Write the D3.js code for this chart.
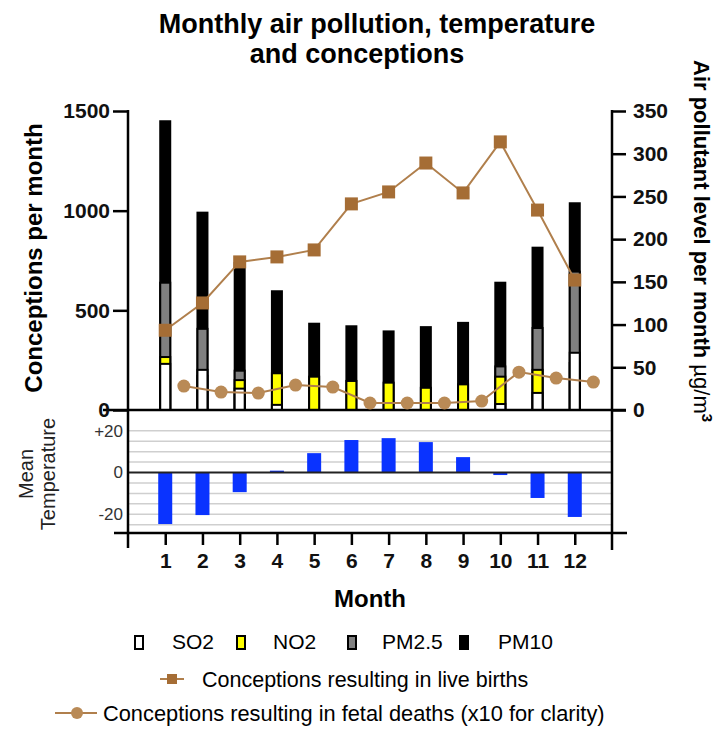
<!DOCTYPE html>
<html><head><meta charset="utf-8">
<script src="https://cdn.jsdelivr.net/npm/d3@7"></script>
<style>body{margin:0;background:#fff}svg{display:block;font-family:"Liberation Sans",Arial,sans-serif}</style>
</head><body><svg id="c" width="724" height="737"></svg>
<script>
const months = [1,2,3,4,5,6,7,8,9,10,11,12];
// air pollutants, µg/m3 (right axis)
const pm10 = [338,231,172,139,101,98,92,97,102,149,190,242];
const pm25 = [149,95,46,null,null,null,null,null,null,51,96,162];
const no2  = [62,40,35,43,39,34,32,26,30,39,47,55];
const so2  = [54,47,25,6,0,0,0,0,0,7,20,67];
// conceptions per month (left axis)
const liveBirths = [400,537,743,768,803,1034,1094,1239,1089,1345,1003,652];
const fetalDeathsX10 = [120,90,85,125,115,35,35,35,45,190,160,140];
// mean temperature
const meanTemp = [-24.7,-20.4,-9.4,0.9,9.3,15.6,16.5,14.6,7.4,-1.2,-12.2,-21.3];
const leftTicks = [0,500,1000,1500];
const rightTicks = [0,50,100,150,200,250,300,350];
const tempTicks = [-20,0,20];
const tempTickLabels = ["-20","0","+20"];
const tempGrid = [-25,-20,-15,-10,-5,5,10,15,20];

const svg = d3.select("#c");
const x = d3.scaleLinear().domain([0,13]).range([128,612]);
const yL = d3.scaleLinear().domain([0,1500]).range([410,111]);
const yR = d3.scaleLinear().domain([0,350]).range([410,111]);
const yT = d3.scaleLinear().domain([-29,30]).range([533,410]);
const brownLine = "#b07f4c", brownSq = "#a56d35", brownCirc = "#b98a56";

// title
svg.append("text").attr("x",377).attr("y",33).attr("text-anchor","middle")
  .attr("font-size",27).attr("font-weight","bold").text("Monthly air pollution, temperature");
svg.append("text").attr("x",357).attr("y",63).attr("text-anchor","middle")
  .attr("font-size",27).attr("font-weight","bold").text("and conceptions");

// temperature panel gridlines
const tp = svg.append("g");
tp.selectAll("line.g").data(tempGrid).join("line")
  .attr("x1",128).attr("x2",612).attr("y1",d=>yT(d)).attr("y2",d=>yT(d))
  .attr("stroke","#cfcfcf").attr("stroke-width",1.5);
tp.selectAll("rect").data(months).join("rect")
  .attr("x",(d)=>x(d)-7).attr("width",14)
  .attr("y",(d,i)=>yT(Math.max(0,meanTemp[i])))
  .attr("height",(d,i)=>Math.abs(yT(meanTemp[i])-yT(0)))
  .attr("fill","#0a33ff");
tp.append("line").attr("x1",128).attr("x2",612).attr("y1",yT(0)).attr("y2",yT(0))
  .attr("stroke","#222").attr("stroke-width",2);
tp.selectAll("text.tt").data(tempTicks).join("text")
  .attr("x",123).attr("y",d=>yT(d)).attr("dy","0.35em").attr("text-anchor","end")
  .attr("font-size",17).attr("fill","#333").text((d,i)=>tempTickLabels[i]);
const tl = svg.append("text").attr("transform","translate(41,474) rotate(-90)")
  .attr("text-anchor","middle").attr("font-size",20).attr("fill","#222");
tl.append("tspan").attr("x",0).attr("dy","-0.4em").text("Mean");
tl.append("tspan").attr("x",0).attr("dy","1.1em").text("Temperature");

// pollutant bars (overlaid)
const bars = svg.append("g");
const series = [
  {v:pm10, c:"#000"},{v:pm25, c:"#808080"},{v:no2, c:"#ffff00"},{v:so2, c:"#fff"}
];
series.forEach(s=>{
  bars.selectAll(null).data(months.filter((m,i)=>s.v[i]!=null && s.v[i]>0)).join("rect")
    .attr("x",d=>x(d)-5).attr("width",10)
    .attr("y",d=>yR(s.v[d-1])).attr("height",d=>yR(0)-yR(s.v[d-1]))
    .attr("fill",s.c).attr("stroke","#000").attr("stroke-width",2);
});

// axes lines
svg.append("line").attr("x1",128).attr("x2",128).attr("y1",110).attr("y2",548).attr("stroke","#000").attr("stroke-width",2.5);
svg.append("line").attr("x1",612).attr("x2",612).attr("y1",110).attr("y2",550).attr("stroke","#000").attr("stroke-width",2.5);
svg.append("line").attr("x1",103).attr("x2",626).attr("y1",410).attr("y2",410).attr("stroke","#000").attr("stroke-width",2.5);
svg.append("line").attr("x1",114).attr("x2",627).attr("y1",533).attr("y2",533).attr("stroke","#000").attr("stroke-width",2.5);

const axL = svg.append("g").attr("transform","translate(128,0)")
  .call(d3.axisLeft(yL).tickValues(leftTicks).tickFormat(d3.format("d")).tickSize(15).tickPadding(3));
const axR = svg.append("g").attr("transform","translate(612,0)")
  .call(d3.axisRight(yR).tickValues(rightTicks).tickFormat(d3.format("d")).tickSize(14).tickPadding(7));
const axB = svg.append("g").attr("transform","translate(0,533)")
  .call(d3.axisBottom(x).tickValues(months).tickFormat(d3.format("d")).tickSize(12).tickPadding(8));
[axL,axR,axB].forEach(a=>{
  a.select(".domain").remove();
  a.selectAll(".tick line").attr("stroke","#000").attr("stroke-width",2.5);
  a.selectAll(".tick text").attr("font-size",21).attr("font-weight","bold").attr("fill","#111")
    .attr("font-family","Liberation Sans, Arial, sans-serif");
});

// lines
const lineLive = d3.line().x((d,i)=>x(months[i])).y(d=>yL(d));
const lineFetal = d3.line().x((d,i)=>x(months[i]+0.5)).y(d=>yL(d));
svg.append("path").datum(fetalDeathsX10).attr("d",lineFetal).attr("fill","none").attr("stroke",brownLine).attr("stroke-width",2);
svg.selectAll("circle.f").data(fetalDeathsX10).join("circle")
  .attr("cx",(d,i)=>x(months[i]+0.5)).attr("cy",d=>yL(d)).attr("r",6.5).attr("fill",brownCirc);
svg.append("path").datum(liveBirths).attr("d",lineLive).attr("fill","none").attr("stroke",brownLine).attr("stroke-width",2);
svg.selectAll("rect.l").data(liveBirths).join("rect")
  .attr("x",(d,i)=>x(months[i])-6.5).attr("y",d=>yL(d)-6.5).attr("width",13).attr("height",13).attr("fill",brownSq);

// axis titles
svg.append("text").attr("transform","translate(42,258) rotate(-90)").attr("text-anchor","middle")
  .attr("font-size",24).attr("font-weight","bold").text("Conceptions per month");
const rt = svg.append("text").attr("transform","translate(694,60) rotate(90)").attr("text-anchor","start")
  .attr("font-size",22).attr("font-weight","bold");
rt.append("tspan").text("Air pollutant level per month ");
rt.append("tspan").attr("font-weight","normal").text("µg/m");
rt.append("tspan").attr("dy","-0.5em").attr("font-size",15).text("3");
svg.append("text").attr("x",370).attr("y",607).attr("text-anchor","middle")
  .attr("font-size",24).attr("font-weight","bold").text("Month");

// legend
const legItems = [
  {n:"SO2",c:"#fff",mx:135,tx:172},{n:"NO2",c:"#ffff00",mx:237,tx:273},
  {n:"PM2.5",c:"#808080",mx:348,tx:382},{n:"PM10",c:"#000",mx:460,tx:498}
];
const lg = svg.append("g");
legItems.forEach(d=>{
  lg.append("rect").attr("x",d.mx).attr("y",636).attr("width",8).attr("height",13)
    .attr("fill",d.c).attr("stroke","#000").attr("stroke-width",2);
  lg.append("text").attr("x",d.tx).attr("y",642).attr("dy","0.35em").attr("font-size",21).text(d.n);
});
lg.append("line").attr("x1",160).attr("x2",184).attr("y1",679).attr("y2",679).attr("stroke",brownLine).attr("stroke-width",2);
lg.append("rect").attr("x",167).attr("y",674).attr("width",10).attr("height",10).attr("fill",brownSq);
lg.append("text").attr("x",202).attr("y",679).attr("dy","0.35em").attr("font-size",21.5).text("Conceptions resulting in live births");
lg.append("line").attr("x1",55).attr("x2",97).attr("y1",713).attr("y2",713).attr("stroke",brownLine).attr("stroke-width",2);
lg.append("circle").attr("cx",77).attr("cy",713).attr("r",6).attr("fill",brownCirc);
lg.append("text").attr("x",103).attr("y",713).attr("dy","0.35em").attr("font-size",21.8).text("Conceptions resulting in fetal deaths (x10 for clarity)");
</script></body></html>
